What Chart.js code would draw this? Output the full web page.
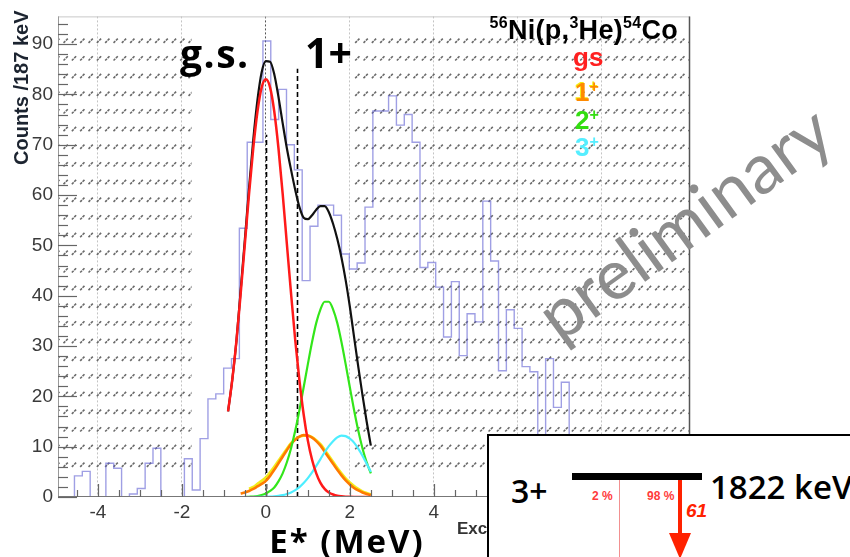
<!DOCTYPE html>
<html>
<head>
<meta charset="utf-8">
<script src="https://cdn.jsdelivr.net/npm/chart.js@4.4.1/dist/chart.umd.min.js"></script>
<style>
  body { margin: 0; background: #fff; }
  #wrap { position: relative; width: 850px; height: 557px; overflow: hidden; }
  .ov { position: absolute; white-space: nowrap; line-height: 1; }
  .sup { font-size: 13px; position: relative; top: -9px; }
</style>
</head>
<body>
<div id="wrap">
  <canvas id="c" width="850" height="557"></canvas>

  <div class="ov" style="left:10px;top:165px;transform-origin:0 0;transform:rotate(-90deg);font:bold 20px 'Liberation Sans';color:#1c2430;">Counts /187 keV</div>
  <div class="ov" style="right:172px;top:15px;font:bold 27px 'Liberation Sans';letter-spacing:0.3px;color:#000;"><span class="sup" style="font-size:16px;top:-11px">56</span>Ni(p,<span class="sup" style="font-size:16px;top:-11px">3</span>He)<span class="sup" style="font-size:16px;top:-11px">54</span>Co</div>

  <div class="ov" style="left:573px;top:42px;font:bold 26px 'Liberation Sans';color:#ff2020;">gs</div>
  <div class="ov" style="left:575px;top:77px;font:bold 26px 'Liberation Sans';color:#ff8a00;text-shadow:-1px -1px 0 #f4ea10;">1<span class="sup" style="font-size:16px">+</span></div>
  <div class="ov" style="left:575px;top:105px;font:bold 26px 'Liberation Sans';color:#33dd11;">2<span class="sup" style="font-size:16px">+</span></div>
  <div class="ov" style="left:575px;top:132px;font:bold 26px 'Liberation Sans';color:#55eeff;">3<span class="sup" style="font-size:16px">+</span></div>

  <div class="ov" style="left:180px;top:26px;font:bold 39px 'Open Sans';letter-spacing:1.5px;color:#000;">g.s.</div>
  <div class="ov" style="left:305px;top:24px;font:bold 41px 'Open Sans';color:#000;">1+</div>

  <div class="ov" style="left:683px;top:221px;transform:translate(-50%,-50%) rotate(-36deg);font:70px 'Lato';color:#8d8d8d;">preliminary</div>

  <div class="ov" style="left:457px;top:519px;font:bold 17px 'Liberation Sans';color:#333;">Excitation energy (MeV)</div>
  <div class="ov" style="left:237px;width:220px;text-align:center;top:518px;font:bold 33px 'Open Sans';letter-spacing:2px;color:#000;">E* (MeV)</div>

  <div class="ov" style="left:487px;top:434px;width:420px;height:200px;border:2px solid #000;background:#fff;"></div>
  <div class="ov" style="left:511px;top:469px;font:600 32px 'Open Sans';color:#000;">3+</div>
  <div class="ov" style="left:572px;top:473px;width:130px;height:7px;background:#000;"></div>
  <div class="ov" style="left:710px;top:464px;font:600 33px 'Open Sans';color:#000;">1822 keV</div>
  <div class="ov" style="left:592px;top:489px;font:bold 12px 'Liberation Sans';color:#ff3b3b;">2 %</div>
  <div class="ov" style="left:619px;top:480px;width:1px;height:80px;background:#f29090;"></div>
  <div class="ov" style="left:647px;top:489px;font:bold 12px 'Liberation Sans';color:#ff3b3b;">98 %</div>
  <div class="ov" style="left:678px;top:480px;width:4px;height:54px;background:#ff2200;"></div>
  <div class="ov" style="left:669px;top:533px;width:0;height:0;border-left:11.5px solid transparent;border-right:11.5px solid transparent;border-top:26px solid #ff2200;"></div>
  <div class="ov" style="left:686px;top:500px;font:italic bold 19px 'Liberation Sans';color:#ff2200;">61</div>
</div>

<script>
// histogram: counts per 187 keV bin, first bin lower edge at binStart (MeV)
const binStart = -4.932;
const binWidth = 0.187;
const counts = [0, 0, 4.2, 5.1, 0, 0, 6.7, 5.7, 0, 0.6, 1.7, 6.7, 9.7, 0, 0, 0, 7.6, 1.4, 11.6, 19.5,
  20.5, 25.6, 27.5, 53.4, 70.5, 70.5, 90.6, 75, 81, 70, 65, 43, 53.8, 58, 58, 56, 48.3, 45.3, 46.5, 57.6,
  76.7, 76.7, 79.7, 73.9, 76, 70.5, 45.6, 46.6, 41.7, 31.8, 42.8, 28.1, 36.4, 34.8, 58.8, 46.9, 25.1, 37.2, 33.5, 25.9,
  24.9, 8, 27.5, 17.8, 22.8, 9, 11, 6, 8, 10, 5, 7, 4, 6, 3, 5, 2, 4, 3, 1, 2];

// fit curves
const fitE = [-1.0, -0.9, -0.8, -0.7, -0.6, -0.5, -0.4, -0.3, -0.2, -0.1, 0.0, 0.1, 0.2, 0.3, 0.4, 0.5, 0.6, 0.7,
  0.8, 0.9, 1.0, 1.1, 1.2, 1.3, 1.4, 1.5, 1.6, 1.7, 1.8, 1.9, 2.0, 2.1, 2.2, 2.3, 2.4, 2.5];
const fitGs = [null, 17.0, 23.3, 31.1, 40.4, 50.3, 60.3, 69.3, 76.6, 81.4, 83.0, 81.4, 76.6, 69.3, 60.3, 50.3, 40.4, 31.1,
  23.1, 16.4, 11.2, 7.4, 4.7, 2.8, 1.6, 0.9, 0.5, 0.25, 0.13, 0.06, 0.03, 0.01, 0, 0, 0, 0];
const fit1Orange = [null, null, null, null, 0.7, 0.9, 1.2, 1.6, 2.1, 2.6, 3.2, 4.2, 5.4, 6.7, 8.0, 9.3, 10.5, 11.4,
  12.0, 12.3, 12.2, 11.8, 11.1, 10.2, 9.0, 7.8, 6.6, 5.4, 4.3, 3.3, 2.5, 1.8, 1.3, 0.9, 0.6, 0.4];
const fit1Yellow = [null, null, null, null, null, null, 1.6, 2.0, 2.6, 3.2, 3.9, 4.9, 6.0, 7.2, 8.4, 9.6, 10.7, 11.5,
  12.0, 12.2, 12.2, 11.9, 11.3, 10.5, 9.4, 8.2, 7.0, 5.8, 4.7, 3.7, 2.9, 2.2, 1.6, 1.1, 0.8, 0.5];
const fit2 = [0, 0, 0, 0, 0, 0, 0.05, 0.1, 0.2, 0.4, 0.7, 1.2, 1.9, 3.1, 4.7, 6.9, 9.7, 13.2,
  17.3, 21.8, 26.4, 30.8, 34.6, 37.3, 38.8, 38.8, 37.3, 34.6, 30.8, 26.4, 21.8, 17.3, 13.2, 9.7, 6.9, 4.7];
const fit3 = [0, 0, 0, 0, 0, 0, 0, 0, 0.01, 0.02, 0.04, 0.07, 0.13, 0.22, 0.36, 0.59, 0.9, 1.37,
  1.98, 2.77, 3.75, 4.89, 6.17, 7.53, 8.89, 10.1, 11.1, 11.85, 12.2, 12.1, 11.6, 10.8, 9.6, 8.2, 6.6, 5.0];
const fitTotal = [null, 17.0, 23.3, 31.1, 41.1, 51.2, 61.5, 71.0, 78.9, 84.4, 86.6, 86.5, 84.0, 79.5, 74.3, 69.3, 65.0, 61.0,
  57.6, 55.5, 55.2, 56.0, 57.1, 57.8, 57.8, 56.6, 54.3, 51.3, 47.6, 43.1, 37.8, 31.8, 25.9, 20.3, 15.0, 10.2];

const xTicks = [-4, -2, 0, 2, 4, 6, 8];
const yTicks = [0, 10, 20, 30, 40, 50, 60, 70, 80, 90];
const hatchBands = [[-4.95, -1.77], [2.05, 10.1]];
const hatchRange = [5.0, 93.2];
const stateLines = [[0, 72], [0.74, 85.1]];

const histPoints = counts.map((v, i) => ({ x: binStart + i * binWidth, y: v }));
histPoints.push({ x: binStart + counts.length * binWidth, y: counts[counts.length - 1] });

function curve(arr) {
  return fitE.map((e, i) => ({ x: e, y: arr[i] }));
}

function lineSet(arr, color, width, order) {
  return {
    data: curve(arr),
    borderColor: color,
    borderWidth: width,
    pointRadius: 0,
    cubicInterpolationMode: 'monotone',
    spanGaps: false,
    fill: false,
    order: order
  };
}

function makeTile() {
  const t = document.createElement('canvas');
  t.width = 25;
  t.height = 53;
  const g = t.getContext('2d');
  g.strokeStyle = '#6a6a6a';
  g.lineWidth = 1.6;
  for (let r = 0; r < 3; r++) {
    for (let c = 0; c < 3; c++) {
      const x0 = c * 25 / 3, y0 = r * 53 / 3;
      g.beginPath();
      g.moveTo(x0 + 0.5, y0 + 5.2);
      g.lineTo(x0 + 2.3, y0 + 3.4);
      g.moveTo(x0 + 2.9, y0 + 2.8);
      g.lineTo(x0 + 4.8, y0 + 0.9);
      g.stroke();
    }
  }
  return t;
}

const hatchPlugin = {
  id: 'hatch',
  beforeDatasetsDraw(chart) {
    const { ctx, scales: { x, y } } = chart;
    ctx.save();
    const pat = ctx.createPattern(makeTile(), 'repeat');
    pat.setTransform(new DOMMatrix().translate(63, 20));
    ctx.fillStyle = pat;
    const yTop = y.getPixelForValue(hatchRange[1]);
    const yBot = y.getPixelForValue(hatchRange[0]);
    hatchBands.forEach(([e0, e1]) => {
      const x0 = x.getPixelForValue(e0), x1 = x.getPixelForValue(e1);
      ctx.fillRect(x0, yTop, x1 - x0, yBot - yTop);
    });
    // dashed markers for g.s. and 1+
    ctx.strokeStyle = '#000';
    ctx.lineWidth = 1.6;
    ctx.setLineDash([5, 3]);
    stateLines.forEach(([e, top]) => {
      const px = Math.round(x.getPixelForValue(e)) + 0.5;
      ctx.beginPath();
      ctx.moveTo(px, y.getPixelForValue(0));
      ctx.lineTo(px, y.getPixelForValue(top));
      ctx.stroke();
    });
    ctx.restore();
  }
};

const axisPlugin = {
  id: 'rootAxes',
  afterDatasetsDraw(chart) {
    const { ctx, chartArea: a, scales: { x, y } } = chart;
    ctx.save();
    ctx.lineWidth = 1;
    ctx.strokeStyle = '#c8c8c8';
    ctx.beginPath(); ctx.moveTo(a.left, a.top + 0.5); ctx.lineTo(a.right, a.top + 0.5); ctx.stroke();
    ctx.strokeStyle = '#999';
    ctx.beginPath(); ctx.moveTo(a.left + 0.5, a.top); ctx.lineTo(a.left + 0.5, a.bottom); ctx.stroke();
    ctx.strokeStyle = '#555';
    ctx.lineWidth = 1.5;
    ctx.beginPath(); ctx.moveTo(a.right - 0.5, a.top); ctx.lineTo(a.right - 0.5, a.bottom); ctx.stroke();
    ctx.strokeStyle = '#777';
    ctx.lineWidth = 1.2;
    ctx.beginPath(); ctx.moveTo(a.left, a.bottom - 0.5); ctx.lineTo(a.right, a.bottom - 0.5); ctx.stroke();

    ctx.strokeStyle = '#666';
    ctx.lineWidth = 1.2;
    for (let k = -9; k <= 20; k++) {
      const v = k / 2;
      const px = Math.round(x.getPixelForValue(v)) + 0.5;
      const len = k % 4 === 0 ? 13 : 7;
      ctx.beginPath(); ctx.moveTo(px, a.bottom); ctx.lineTo(px, a.bottom - len); ctx.stroke();
    }
    for (let k = 0; k <= 47; k++) {
      const py = Math.round(y.getPixelForValue(k * 2)) + 0.5;
      const len = k % 5 === 0 ? 19 : 10;
      ctx.beginPath(); ctx.moveTo(a.left, py); ctx.lineTo(a.left + len, py); ctx.stroke();
    }
    ctx.restore();
  }
};

new Chart(document.getElementById('c'), {
  type: 'line',
  data: {
    datasets: [
      lineSet(fitGs, '#ff1a1a', 2.5, 0),
      lineSet(fit3, '#4deeff', 2.2, 1),
      lineSet(fit2, '#33e61a', 2.2, 2),
      lineSet(fit1Orange, '#ff7a00', 2.6, 3),
      lineSet(fit1Yellow, '#f2ec1a', 2.6, 4),
      lineSet(fitTotal, '#111', 2.2, 5),
      {
        data: histPoints,
        borderColor: 'rgba(95,95,210,0.6)',
        borderWidth: 1.4,
        pointRadius: 0,
        stepped: 'before',
        fill: false,
        order: 10
      }
    ]
  },
  options: {
    responsive: false,
    animation: false,
    layout: { padding: { left: 0, right: 160, top: 5, bottom: 0 } },
    plugins: { legend: { display: false }, tooltip: { enabled: false } },
    scales: {
      x: {
        type: 'linear',
        min: -4.95,
        max: 10.1,
        afterFit: s => { s.height = 60; },
        afterBuildTicks: s => { s.ticks = xTicks.map(v => ({ value: v })); },
        ticks: {
          font: { family: 'Liberation Sans', size: 19 },
          color: '#3a3a3a',
          padding: 4,
          maxRotation: 0,
          autoSkip: false,
          callback: v => String(v)
        },
        grid: {
          color: c => (c.tick && c.tick.value === 0 ? '#555' : '#c4c4c4'),
          lineWidth: 1,
          drawTicks: false
        },
        border: { display: false, dash: [2, 2] }
      },
      y: {
        type: 'linear',
        min: 0,
        max: 95.5,
        afterFit: s => { s.width = 58; },
        afterBuildTicks: s => { s.ticks = yTicks.map(v => ({ value: v })); },
        ticks: {
          font: { family: 'Liberation Sans', size: 19 },
          color: '#3a3a3a',
          padding: 5,
          callback: v => String(v)
        },
        grid: { display: false, drawTicks: false },
        border: { display: false }
      }
    }
  },
  plugins: [hatchPlugin, axisPlugin]
});
</script>
</body>
</html>
